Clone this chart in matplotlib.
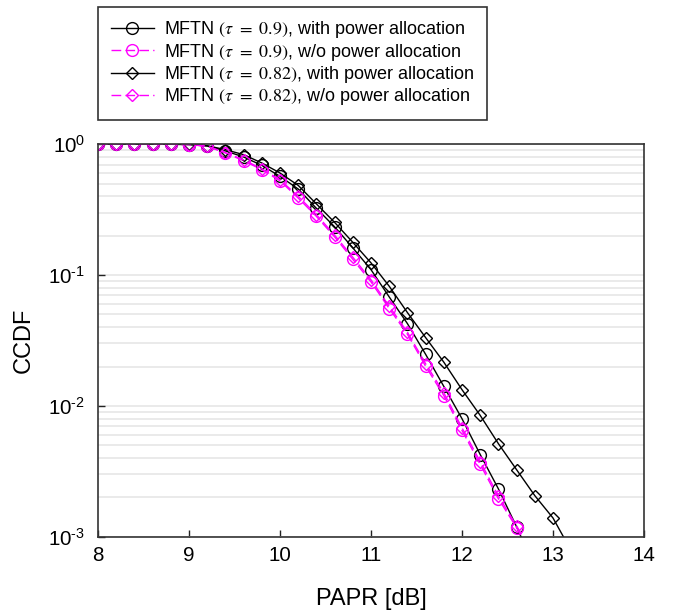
import numpy as np
import matplotlib
matplotlib.use('Agg')
import matplotlib.pyplot as plt
from matplotlib.ticker import FixedLocator, LogLocator, NullFormatter

plt.rcParams['font.family'] = ['Liberation Sans', 'DejaVu Sans']
plt.rcParams['mathtext.fontset'] = 'stix'

# PAPR grid (dB), markers every 0.2 dB
papr = [8.0, 8.2, 8.4, 8.6, 8.8, 9.0, 9.2, 9.4, 9.6, 9.8, 10.0, 10.2, 10.4, 10.6,
        10.8, 11.0, 11.2, 11.4, 11.6, 11.8, 12.0, 12.2, 12.4, 12.6, 12.8, 13.0, 13.2]

# tau = 0.9, with power allocation
ccdf_09_pa = [1.0, 1.0, 1.0, 1.0, 1.0, 0.996, 0.97, 0.89, 0.80, 0.69, 0.569, 0.455,
              0.324, 0.234, 0.1615, 0.110, 0.0681, 0.0426, 0.0248, 0.0141, 0.00798,
              0.00425, 0.00232, 0.00119, 0.00058]
# tau = 0.9, without power allocation
ccdf_09_nopa = [1.0, 1.0, 1.0, 1.0, 1.0, 0.995, 0.965, 0.858, 0.749, 0.639, 0.526, 0.388,
                0.281, 0.196, 0.132, 0.0887, 0.0555, 0.0353, 0.0201, 0.0120, 0.00649,
                0.00357, 0.00195, 0.00117, 0.00068]
# tau = 0.82, with power allocation
ccdf_082_pa = [1.0, 1.0, 1.0, 1.0, 1.0, 0.997, 0.975, 0.91, 0.833, 0.72, 0.603, 0.485,
               0.35, 0.253, 0.178, 0.124, 0.0822, 0.0517, 0.0333, 0.0216, 0.0133,
               0.00846, 0.00514, 0.00325, 0.00206, 0.00139, 0.00078]
# tau = 0.82, without power allocation
ccdf_082_nopa = [1.0, 1.0, 1.0, 1.0, 1.0, 0.996, 0.968, 0.865, 0.76, 0.65, 0.536, 0.40,
                 0.29, 0.202, 0.137, 0.092, 0.0578, 0.0366, 0.021, 0.0126, 0.0068,
                 0.00375, 0.00205, 0.00121, 0.0007]

labels = [r'MFTN $(\tau\ =\ 0.9)$, with power allocation',
          r'MFTN $(\tau\ =\ 0.9)$, w/o power allocation',
          r'MFTN $(\tau\ =\ 0.82)$, with power allocation',
          r'MFTN $(\tau\ =\ 0.82)$, w/o power allocation']

x_ticks = [8, 9, 10, 11, 12, 13, 14]
y_ticks = [1e-3, 1e-2, 1e-1, 1.0]
y_ticklabels = [r'$\mathregular{10^{\text{-}3}}$', r'$\mathregular{10^{\text{-}2}}$',
                r'$\mathregular{10^{\text{-}1}}$', r'$\mathregular{10^{0}}$']

MAGENTA = '#ff00ff'

fig = plt.figure(figsize=(6.74, 6.14), dpi=100)
ax = fig.add_axes([0.1454, 0.1259, 0.8101, 0.6391])

series = [
    (ccdf_09_pa, 'k', '-', 'o', 8.5),
    (ccdf_09_nopa, MAGENTA, (0, (7, 3)), 'o', 8.5),
    (ccdf_082_pa, 'k', '-', 'D', 6.2),
    (ccdf_082_nopa, MAGENTA, (0, (7, 3)), 'D', 6.2),
]
for (vals, col, ls, mk, ms), lab in zip(series, labels):
    ax.semilogy(papr[:len(vals)], vals, color=col, linestyle=ls, linewidth=1.0,
                marker=mk, markersize=ms, markerfacecolor='none',
                markeredgecolor=col, markeredgewidth=1.0, label=lab)

ax.set_xlim(8, 14)
ax.set_ylim(1e-3, 1)
ax.set_xticks(x_ticks)

ax.yaxis.set_major_locator(FixedLocator(y_ticks))
ax.set_yticklabels(y_ticklabels)
ax.yaxis.set_minor_locator(LogLocator(base=10, subs=np.arange(2, 10), numticks=20))
ax.yaxis.set_minor_formatter(NullFormatter())
ax.grid(True, which='both', axis='y', color='#e8e8e8', linewidth=1.3)
ax.set_axisbelow(True)

ax.tick_params(axis='both', which='major', direction='in', length=5, width=1,
               labelsize=14.8, colors='#222222', labelcolor='black')
ax.tick_params(axis='y', which='minor', length=0)
ax.tick_params(axis='x', pad=7)
ax.tick_params(axis='y', pad=9)
for sp in ax.spines.values():
    sp.set_color('#333333')
    sp.set_linewidth(1.2)

ax.set_xlabel('PAPR [dB]', fontsize=17, labelpad=16)
ax.set_ylabel('CCDF', fontsize=17, labelpad=10)

leg = fig.legend(loc='upper left', bbox_to_anchor=(0.1454, 0.989), fontsize=13,
                 handlelength=2.4, handletextpad=0.55, labelspacing=0.07,
                 borderpad=0.7, borderaxespad=0, fancybox=False, framealpha=1,
                 edgecolor='#333333')
leg.get_frame().set_linewidth(1.2)

fig.savefig('out.png', dpi=100)
